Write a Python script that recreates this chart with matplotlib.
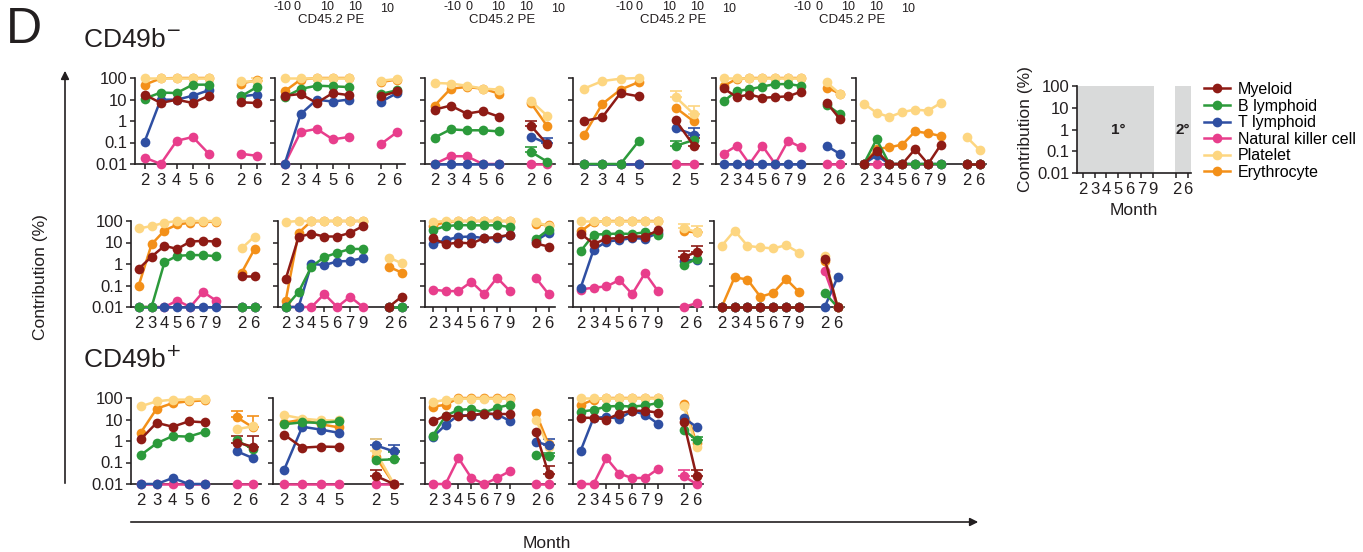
import numpy as np
import matplotlib
matplotlib.use('Agg')
import matplotlib.pyplot as plt
from matplotlib.lines import Line2D

plt.rcParams['font.family'] = ['Liberation Sans', 'DejaVu Sans']

# lineage order used by every data block below
lineages = ['Myeloid', 'B lymphoid', 'T lymphoid', 'Natural killer cell', 'Platelet', 'Erythrocyte']
lineage_colors = ['#8e1b15', '#2c9a3b', '#2f4fa2', '#e83e8c', '#fdd681', '#f39019']

yticks = [0.01, 0.1, 1, 10, 100]
ytick_labels = ['0.01', '0.1', '1', '10', '100']

months_5 = ['2', '3', '4', '5', '6']
months_4 = ['2', '3', '4', '5']
months_7 = ['2', '3', '4', '5', '6', '7', '9']
sec_26 = ['2', '6']
sec_25 = ['2', '5']

# ---- CD49b- , row 1 ----
r1p1_prim = [[17, 6.9, 9.8, 6.9, 15],
             [11, 21, 20, 49, 49],
             [0.11, 9.8, 9.8, 15, 27],
             [0.02, 0.01, 0.12, 0.18, 0.03],
             [100, 100, 100, 100, 100],
             [49, 95, 100, 100, 100]]
r1p1_sec = [[7.4, 6.9], [14, 38], [14, 17], [0.03, 0.024], [70, 70], [55, 80]]
r1p1_err = [(4, 1, 95)]

r1p2_prim = [[15, 18, 6.9, 20, 16],
             [13, 31, 44, 41, 38],
             [0.01, 2.1, 9.8, 8, 10],
             [0.01, 0.31, 0.43, 0.14, 0.18],
             [100, 100, 100, 100, 100],
             [24, 85, 100, 100, 100]]
r1p2_sec = [[14, 24], [18, 27], [7.7, 20], [0.085, 0.3], [75, 90], [65, 85]]
r1p2_err = []

r1p3_prim = [[3.4, 5.2, 2.2, 2.9, 1.6],
             [0.17, 0.41, 0.37, 0.37, 0.33],
             [0.01, 0.01, 0.01, 0.01, 0.01],
             [0.01, 0.023, 0.023, 0.01, 0.01],
             [59, 55, 44, 32, 29],
             [5.2, 32, 38, 32, 19]]
r1p3_sec = [[0.6, 0.085], [0.037, 0.013], [0.19, 0.09], [0.01, 0.01], [8.5, 1.8], [6.9, 0.6]]
r1p3_err = [(0, 0, 1.0), (1, 0, 0.065), (2, 1, 0.17)]

r1p4_prim = [[1.0, 1.5, 20, 14],
             [0.01, 0.01, 0.01, 0.12],
             [0.01, 0.01, 0.01, 0.01],
             [0.01, 0.01, 0.01, 0.01],
             [32, 72, 93, 100],
             [0.22, 6.2, 29, 65]]
r1p4_sec = [[1.1, 0.07], [0.07, 0.13], [0.47, 0.23], [0.01, 0.01], [13, 2.1], [4.2, 0.95]]
r1p4_err = [(4, 0, 24), (4, 1, 4.8), (0, 1, 0.17), (1, 0, 0.12), (2, 1, 0.45)]

r1p5_prim = [[33, 13, 17, 12, 13, 14, 23],
             [8.3, 25, 30, 40, 52, 52, 43],
             [0.01, 0.01, 0.01, 0.01, 0.01, 0.01, 0.01],
             [0.03, 0.07, 0.01, 0.07, 0.01, 0.12, 0.06],
             [100, 100, 100, 100, 100, 100, 100],
             [43, 90, 100, 100, 100, 100, 100]]
r1p5_sec = [[7, 1.3], [5.8, 2.1], [0.07, 0.03], [0.01, 0.01], [62, 19], [36, 19]]
r1p5_err = []

r1p6_prim = [[0.01, 0.04, 0.01, 0.01, 0.05, 0.01, 0.08],
             [0.01, 0.14, 0.01, 0.01, 0.01, 0.01, 0.01],
             [0.01, 0.025, 0.01, 0.01, 0.01, 0.01, 0.01],
             [0.01, 0.01, 0.01, 0.01, 0.01, 0.01, 0.01],
             [6.5, 2.4, 1.55, 2.6, 3.4, 3.0, 7],
             [0.01, 0.05, 0.06, 0.08, 0.33, 0.27, 0.2]]
r1p6_sec = [[0.01, 0.01], [0.01, 0.01], [0.01, 0.01], [0.01, 0.01], [0.18, 0.045], [0.01, 0.01]]
r1p6_err = []

# ---- CD49b- , row 2 ----
r2p1_prim = [[0.6, 2.2, 7, 5, 11, 12, 11],
             [0.01, 0.01, 1.2, 2.4, 2.6, 2.6, 2.3],
             [0.01, 0.01, 0.01, 0.01, 0.01, 0.01, 0.01],
             [0.01, 0.01, 0.01, 0.02, 0.01, 0.05, 0.02],
             [45, 58, 83, 100, 100, 100, 100],
             [0.1, 8.3, 36, 69, 83, 90, 93]]
r2p1_sec = [[0.28, 0.28], [0.01, 0.01], [0.01, 0.01], [0.01, 0.01], [5.4, 19], [0.4, 5]]
r2p1_err = []

r2p2_prim = [[0.2, 18, 26, 19, 19, 28, 58],
             [0.01, 0.05, 0.75, 2.1, 3.3, 5, 5],
             [0.01, 0.01, 1.0, 0.9, 1.3, 1.4, 1.9],
             [0.01, 0.01, 0.01, 0.04, 0.01, 0.03, 0.01],
             [90, 100, 100, 100, 100, 100, 100],
             [0.02, 28, 100, 100, 100, 100, 100]]
r2p2_sec = [[0.01, 0.03], [0.01, 0.01], [0.01, 0.01], [0.01, 0.01], [2, 1.1], [0.75, 0.4]]
r2p2_err = []

r2p3_prim = [[16, 8.3, 10, 9, 16, 18, 23],
             [37, 58, 64, 64, 62, 64, 52],
             [8.3, 13, 18, 19, 16, 16, 23],
             [0.065, 0.055, 0.055, 0.15, 0.04, 0.23, 0.055],
             [90, 100, 100, 100, 100, 100, 100],
             [58, 90, 100, 100, 100, 100, 100]]
r2p3_sec = [[9, 6.5], [14, 40], [12, 28], [0.23, 0.04], [90, 58], [70, 64]]
r2p3_err = []

r2p4_prim = [[26, 8.6, 15, 16, 19, 19, 37],
             [4, 23, 25, 26, 25, 30, 23],
             [0.08, 4.6, 11, 13, 16, 15, 28],
             [0.065, 0.08, 0.09, 0.18, 0.04, 0.38, 0.055],
             [100, 100, 100, 100, 100, 100, 100],
             [33, 90, 100, 100, 100, 100, 100]]
r2p4_sec = [[2.1, 3.6], [0.9, 1.7], [1.4, 1.6], [0.01, 0.015], [48, 30], [33, 30]]
r2p4_err = [(4, 0, 75), (4, 1, 60), (0, 0, 4.2), (0, 1, 6.7)]

r2p5_prim = [[0.01, 0.01, 0.01, 0.01, 0.01, 0.01, 0.01],
             [0.01, 0.01, 0.01, 0.01, 0.01, 0.01, 0.01],
             [0.01, 0.01, 0.01, 0.01, 0.01, 0.01, 0.01],
             [0.01, 0.01, 0.01, 0.01, 0.01, 0.01, 0.01],
             [7, 36, 7, 5.9, 5.3, 7.5, 3.4],
             [0.01, 0.24, 0.19, 0.03, 0.045, 0.2, 0.05]]
r2p5_sec = [[1.8, 0.01], [0.045, 0.01], [0.01, 0.24], [0.45, 0.01], [2.4, 0.01], [1.4, 0.01]]
r2p5_err = []

# ---- CD49b+ , row 3 ----
r3p1_prim = [[1.2, 7, 4.6, 8.2, 7.4],
             [0.22, 0.78, 1.7, 1.6, 2.7],
             [0.01, 0.01, 0.019, 0.01, 0.01],
             [0.01, 0.01, 0.01, 0.01, 0.01],
             [41, 70, 84, 84, 90],
             [2.4, 32, 58, 70, 78]]
r3p1_sec = [[0.84, 0.55], [1.07, 0.42], [0.33, 0.16], [0.01, 0.01], [3.6, 4.8], [12.6, 4.3]]
r3p1_err = [(5, 0, 26), (5, 1, 15), (0, 0, 1.7), (0, 1, 1.7)]

r3p2_prim = [[2, 0.49, 0.55, 0.53],
             [6, 7.4, 7, 8.2],
             [0.044, 4.6, 3.4, 2.4],
             [0.01, 0.01, 0.01, 0.01],
             [16, 11, 9.2, 9],
             [7, 10, 6, 4.3]]
r3p2_sec = [[0.024, 0.01], [0.13, 0.14], [0.63, 0.33], [0.01, 0.01], [0.33, 0.01], [0.19, 0.01]]
r3p2_err = [(2, 0, 1.2), (2, 1, 0.65), (0, 0, 0.047), (4, 0, 1.2), (1, 1, 0.3)]

r3p3_prim = [[8.2, 15, 14, 16, 19, 18, 18],
             [1.7, 15, 28, 31, 21, 36, 48],
             [1.5, 5.6, 16, 15, 19, 17, 8.7],
             [0.01, 0.01, 0.16, 0.019, 0.01, 0.019, 0.04],
             [64, 83, 93, 93, 93, 93, 93],
             [40, 48, 100, 100, 100, 100, 100]]
r3p3_sec = [[2.7, 0.03], [0.23, 0.21], [0.93, 0.62], [0.01, 0.01], [10, 0.53], [21, 0.7]]
r3p3_err = [(2, 1, 1.2), (0, 1, 0.07), (1, 1, 0.28)]

r3p4_prim = [[12, 12, 10, 19, 26, 25, 21],
             [23, 28, 40, 43, 40, 45, 58],
             [0.36, 12, 13, 11, 25, 17, 6.3],
             [0.01, 0.01, 0.16, 0.03, 0.019, 0.019, 0.05],
             [100, 100, 100, 100, 100, 100, 100],
             [48, 83, 100, 100, 100, 100, 100]]
r3p4_sec = [[7.6, 0.023], [3.4, 1.1], [12, 4.5], [0.023, 0.01], [43, 0.53], [51, 0.8]]
r3p4_err = [(3, 0, 0.043), (0, 1, 0.043), (1, 1, 1.5)]

W, H = 1363, 552
INK = '#231f20'
fig = plt.figure(figsize=(W / 100, H / 100), dpi=100)


def add_axes_px(left, top, width, height):
    return fig.add_axes([left / W, 1 - (top + height) / H, width / W, height / H])


def style_axes(ax, labels_left):
    ax.set_yscale('log')
    ax.set_ylim(0.01, 100)
    ax.set_yticks(yticks)
    ax.set_yticklabels(ytick_labels if labels_left else [])
    ax.minorticks_off()
    for side in ['top', 'right']:
        ax.spines[side].set_visible(False)
    for side in ['left', 'bottom']:
        ax.spines[side].set_color(INK)
        ax.spines[side].set_linewidth(1.2)
    ax.tick_params(axis='both', colors=INK, length=3.5, width=1.1, labelsize=12, pad=2)
    ax.tick_params(axis='x', pad=3)
    ax.set_facecolor('none')


def draw_panel(left, top, months, months2, prim, sec, err, labels_left):
    ax = add_axes_px(left, top, 130, 86)
    n = len(months)
    x1 = np.arange(n)
    x2 = np.array([n + 1, n + 2])
    for i in [5, 4, 3, 2, 1, 0]:
        c = lineage_colors[i]
        ax.plot(x1, prim[i], '-o', color=c, ms=7, lw=1.8, mew=0, clip_on=False, zorder=3)
        ax.plot(x2, sec[i], '-o', color=c, ms=7, lw=1.8, mew=0, clip_on=False, zorder=3)
    for i, j, hi in err:
        y = sec[i][j]
        ax.errorbar(x2[j], y, yerr=[[0], [hi - y]], fmt='none', ecolor=lineage_colors[i],
                    elinewidth=1.2, capsize=4, capthick=1.2, clip_on=False, zorder=2)
    ax.set_xlim(-0.6, n + 2.5)
    ax.set_xticks(list(x1) + list(x2))
    ax.set_xticklabels(months + months2)
    style_axes(ax, labels_left)
    return ax


row1 = [(135, months_5, sec_26, r1p1_prim, r1p1_sec, r1p1_err),
        (275, months_5, sec_26, r1p2_prim, r1p2_sec, r1p2_err),
        (425, months_5, sec_26, r1p3_prim, r1p3_sec, r1p3_err),
        (573, months_4, sec_25, r1p4_prim, r1p4_sec, r1p4_err),
        (716, months_7, sec_26, r1p5_prim, r1p5_sec, r1p5_err),
        (856, months_7, sec_26, r1p6_prim, r1p6_sec, r1p6_err)]
row2 = [(131, months_7, sec_26, r2p1_prim, r2p1_sec, r2p1_err),
        (278, months_7, sec_26, r2p2_prim, r2p2_sec, r2p2_err),
        (425, months_7, sec_26, r2p3_prim, r2p3_sec, r2p3_err),
        (573, months_7, sec_26, r2p4_prim, r2p4_sec, r2p4_err),
        (714, months_7, sec_26, r2p5_prim, r2p5_sec, r2p5_err)]
row3 = [(131, months_5, sec_26, r3p1_prim, r3p1_sec, r3p1_err),
        (273, months_4, sec_25, r3p2_prim, r3p2_sec, r3p2_err),
        (425, months_7, sec_26, r3p3_prim, r3p3_sec, r3p3_err),
        (573, months_7, sec_26, r3p4_prim, r3p4_sec, r3p4_err)]

for top, row in [(78, row1), (221, row2), (398, row3)]:
    for k, (left, m1, m2, prim, sec, err) in enumerate(row):
        draw_panel(left, top, m1, m2, prim, sec, err, k == 0)

# key panel
kax = add_axes_px(1077, 86, 114, 87)
kax.axvspan(-0.5, 6.05, color='#d9dada', lw=0)
kax.axvspan(7.85, 9.25, color='#d9dada', lw=0)
kax.set_xlim(-0.5, 9.25)
kax.set_xticks(list(range(7)) + [8, 9])
kax.set_xticklabels(months_7 + sec_26)
style_axes(kax, True)
kax.text(3, 1, '1°', ha='center', va='center', fontsize=11, fontweight='bold', color=INK)
kax.text(8.55, 1, '2°', ha='center', va='center', fontsize=11, fontweight='bold', color=INK)
kax.set_ylabel('Contribution (%)', fontsize=12.5, color=INK, labelpad=3)
kax.set_xlabel('Month', fontsize=12.5, color=INK, labelpad=4)

handles = [Line2D([], [], color=c, lw=1.8, marker='o', ms=7, mew=0) for c in lineage_colors]
fig.legend(handles, lineages, loc='upper left', bbox_to_anchor=(1204 / W, 1 - 82 / H),
           frameon=False, fontsize=11.5, handlelength=1.6, handletextpad=0.5,
           labelspacing=0.1, borderaxespad=0, borderpad=0)

# overlay for labels and arrows (pixel coordinates)
ov = fig.add_axes([0, 0, 1, 1])
ov.set_xlim(0, W)
ov.set_ylim(H, 0)
ov.axis('off')
ov.annotate('', xy=(65, 68), xytext=(65, 486),
            arrowprops=dict(arrowstyle='-|>', color=INK, lw=1.2, mutation_scale=12))
ov.annotate('', xy=(981, 522), xytext=(128, 522),
            arrowprops=dict(arrowstyle='-|>', color=INK, lw=1.2, mutation_scale=12))
ov.text(41, 277, 'Contribution (%)', rotation=90, ha='center', va='center', fontsize=12.5, color=INK)
ov.text(547, 543, 'Month', ha='center', va='center', fontsize=12.5, color=INK)
ov.text(24, 30, 'D', ha='center', va='center', fontsize=36, color=INK)
ov.text(83, 40, r'CD49b$^{-}$', ha='left', va='center', fontsize=19, color=INK)
ov.text(83, 360, r'CD49b$^{+}$', ha='left', va='center', fontsize=19, color=INK)

# bits of the flow plots above, cut off by the crop
for cx in [331, 502, 673, 852]:
    ov.text(cx, 23, 'CD45.2 PE', ha='center', va='baseline', fontsize=9.5, color=INK)
    ov.text(cx - 58, 10, '-10', ha='left', va='baseline', fontsize=9, color=INK)
    ov.text(cx - 37, 10, '0', ha='left', va='baseline', fontsize=9, color=INK)
    ov.text(cx - 11, 10, '10', ha='left', va='baseline', fontsize=9, color=INK)
    ov.text(cx + 17, 10, '10', ha='left', va='baseline', fontsize=9, color=INK)
    ov.text(cx + 49, 12, '10', ha='left', va='baseline', fontsize=9, color=INK)

fig.savefig('out.png', dpi=100)
